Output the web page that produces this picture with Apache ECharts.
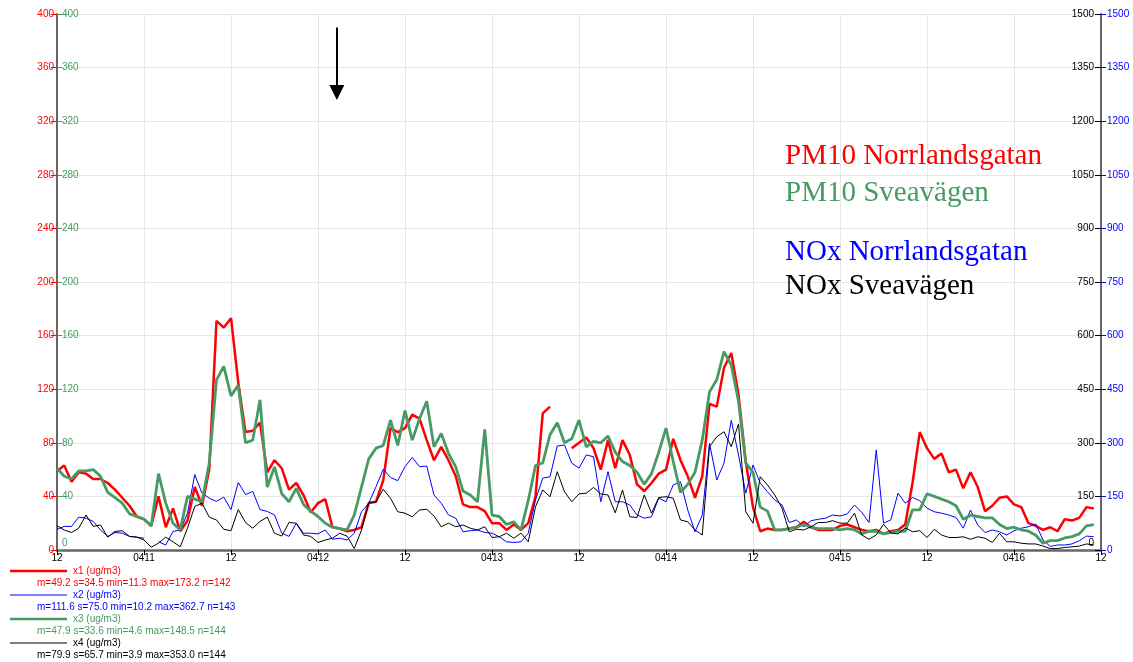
<!DOCTYPE html>
<html>
<head>
<meta charset="utf-8">
<script src="https://cdn.jsdelivr.net/npm/echarts@6/dist/echarts.min.js"></script>
<style>
html,body{margin:0;padding:0;background:#fff;}
#chart{width:1133px;height:662px;}
</style>
</head>
<body>
<div id="chart"></div>
<script>
// ---- DATA ----
const xTickLabels = ['12','0411','12','0412','12','0413','12','0414','12','0415','12','0416','12'];
const leftTicks = [0,40,80,120,160,200,240,280,320,360,400];
const rightTicks = [0,150,300,450,600,750,900,1050,1200,1350,1500];

// x1: PM10 Norrlandsgatan (left axis)
const x1 = [59,63,51,58,57,53,53,50,45,39,33,25,23,18,40,17,31,14,22,47,33,60,171,166,173,125,88,89,95,58,
  67,61,45,50,41,28,35,38,17,16,14,15,17,35,36,52,91,88,91,101,98,82,67,77,67,55,34,32,32,29,
  20,20,15,19,15,20,40,102,107,null,null,76,80,84,76,60,82,61,82,71,49,44,50,57,60,83,67,55,39,55,
  109,107,136,147,116,66,32,14,16,15,15,16,17,21,17,15,15,15,18,19,17,15,14,15,12,14,15,19,50,88,
  76,68,72,58,60,46,58,47,29,33,39,40,34,32,20,18,15,17,14,23,22,24,32,31];
// x2: NOx Norrlandsgatan (right axis)
const x2 = [58,66,66,92,89,80,56,38,49,47,38,36,33,null,23,14,52,56,103,211,159,145,136,148,113,189,155,164,113,108,
  98,47,38,75,47,47,45,56,30,33,28,47,107,131,177,226,203,194,233,259,233,235,154,131,98,89,51,54,56,49,
  47,37,23,21,23,47,140,201,205,291,294,243,229,266,261,135,219,135,135,126,98,89,93,145,135,182,191,112,51,98,
  299,196,243,363,266,159,238,187,163,140,126,77,84,65,82,86,89,98,95,101,126,105,77,280,75,84,159,131,147,138,
  117,107,103,98,91,61,112,70,49,56,51,42,54,61,65,73,28,10,14,14,17,26,39,37];
// x3: PM10 Sveavägen (left axis)
const x3 = [61,55,53,59,59,60,55,43,39,35,27,25,23,18,57,35,20,15,40,38,36,65,127,137,115,123,80,82,112,47,
  62,42,36,46,34,29,25,20,17,16,15,26,47,68,76,78,97,78,104,82,98,111,77,87,72,62,44,41,36,90,
  26,25,19,21,15,37,63,65,86,95,80,83,97,77,81,80,85,73,66,63,58,49,57,73,91,66,43,49,58,82,
  118,127,148,138,111,65,58,32,29,15,15,16,17,19,17,16,16,16,15,16,15,12,14,14,12,13,14,14,30,30,
  42,40,38,36,33,23,26,25,24,24,19,16,17,15,14,11,5,7,7,9,10,12,18,19];
// x4: NOx Sveavägen (right axis)
const x4 = [68,56,49,61,98,66,70,36,52,54,38,36,28,8,19,36,23,9,61,122,131,92,84,58,54,113,77,61,80,92,
  47,39,77,75,42,38,21,28,33,47,39,4,56,132,135,170,145,107,103,93,112,114,95,65,75,65,70,61,56,65,
  35,37,47,33,47,23,121,168,149,219,163,135,157,159,175,157,154,104,168,93,91,154,103,147,149,145,84,79,56,42,
  289,317,331,289,353,107,75,205,182,154,117,51,58,56,65,77,77,82,75,75,103,42,30,42,72,48,45,62,51,54,
  35,58,42,35,35,37,30,37,33,21,47,23,23,19,17,17,11,4,4,7,9,11,17,14];

const seriesNames = ['x1 (ug/m3)','x2 (ug/m3)','x3 (ug/m3)','x4 (ug/m3)'];
const statsText = [
  'm=49.2 s=34.5 min=11.3 max=173.2 n=142',
  'm=111.6 s=75.0 min=10.2 max=362.7 n=143',
  'm=47.9 s=33.6 min=4.6 max=148.5 n=144',
  'm=79.9 s=65.7 min=3.9 max=353.0 n=144'
];
const annotations = ['PM10 Norrlandsgatan','PM10 Sveavägen','NOx Norrlandsgatan','NOx Sveavägen'];
// arrow annotation in data space: hour, from value, to value (left axis)
const arrowHour = 38.6, arrowFrom = 390, arrowTo = 341.5;

// ---- STYLE ----
const RED = '#ff0000', BLUE = '#0000ff', GREEN = '#479a64', BLACK = '#000000';
const AXIS = '#666666', GRID = '#e6e6e6';
const SANS = '"Liberation Sans", Arial, sans-serif';
const SERIF = '"Liberation Serif", "Times New Roman", serif';

const toPairs = arr => arr.map((v, i) => [i, v]);

const chart = echarts.init(document.getElementById('chart'), null, {renderer: 'canvas'});

function zeroUp(v) { return v === 0 ? '{z|0}' : String(v); }
function plain(v) { return String(v); }

const legendColors = [RED, BLUE, GREEN, BLACK];
const legendWidths = [2.5, 1, 2.5, 1];
const legendGraphics = [];
for (let k = 0; k < 4; k++) {
  const y = 571 + k * 24;
  legendGraphics.push({type:'line', z:100, shape:{x1:10, y1:y, x2:67, y2:y}, style:{stroke:legendColors[k], lineWidth:legendWidths[k]}, silent:true});
  legendGraphics.push({type:'text', z:100, x:73, y:y, style:{text:seriesNames[k], fill:legendColors[k], font:'10px ' + SANS, verticalAlign:'middle'}});
  legendGraphics.push({type:'text', z:100, x:37, y:y + 12, style:{text:statsText[k], fill:legendColors[k], font:'10px ' + SANS, verticalAlign:'middle'}});
}
const annColors = [RED, GREEN, BLUE, BLACK];
const annY = [156, 193, 252, 286];
const annGraphics = annotations.map((t, k) => ({
  type:'text', z:100, x:785, y:annY[k],
  style:{text:t, fill:annColors[k], font:'29px ' + SERIF, verticalAlign:'middle', lineWidth:0, stroke:'none'}
}));

const option = {
  animation: false,
  backgroundColor: '#ffffff',
  grid: {left:57, right:32, top:14, bottom:112, outerBoundsMode:'none'},
  xAxis: {
    type:'value', min:0, max:144, interval:12,
    axisLine:{show:true, lineStyle:{color:AXIS, width:2.5}},
    axisTick:{show:true, length:5, lineStyle:{color:'#000'}},
    axisLabel:{color:'#000', fontSize:10, fontFamily:SANS, margin:3,
      formatter: v => xTickLabels[Math.round(v/12)]},
    splitLine:{show:true, lineStyle:{color:GRID, width:1}}
  },
  yAxis: [
    {type:'value', position:'left', min:leftTicks[0], max:leftTicks[leftTicks.length-1], interval:40,
      axisLine:{show:true, lineStyle:{color:AXIS, width:2}},
      axisTick:{show:true, length:6, lineStyle:{color:RED}},
      axisLabel:{color:RED, fontSize:10, fontFamily:SANS, margin:3, formatter:plain},
      splitLine:{show:true, lineStyle:{color:GRID, width:1}}},
    {type:'value', position:'left', min:leftTicks[0], max:leftTicks[leftTicks.length-1], interval:40,
      axisLine:{show:false},
      axisTick:{show:true, inside:true, length:5, lineStyle:{color:GREEN}},
      axisLabel:{inside:true, color:GREEN, fontSize:10, fontFamily:SANS, margin:5, formatter:zeroUp,
        rich:{z:{color:GREEN, fontSize:10, fontFamily:SANS, padding:[0,0,13,0]}}},
      splitLine:{show:false}},
    {type:'value', position:'right', min:rightTicks[0], max:rightTicks[rightTicks.length-1], interval:150,
      axisLine:{show:true, lineStyle:{color:AXIS, width:2}},
      axisTick:{show:true, inside:true, length:6, lineStyle:{color:BLACK}},
      axisLabel:{inside:true, color:BLACK, fontSize:10, fontFamily:SANS, margin:7, formatter:zeroUp,
        rich:{z:{color:BLACK, fontSize:10, fontFamily:SANS, padding:[0,0,13,0]}}},
      splitLine:{show:false}},
    {type:'value', position:'right', min:rightTicks[0], max:rightTicks[rightTicks.length-1], interval:150,
      axisLine:{show:false},
      axisTick:{show:true, length:5, lineStyle:{color:BLUE}},
      axisLabel:{color:BLUE, fontSize:10, fontFamily:SANS, margin:6, formatter:plain},
      splitLine:{show:false}}
  ],
  series: [
    {name:seriesNames[0], type:'line', yAxisIndex:0, data:toPairs(x1), showSymbol:false, symbol:'none',
      connectNulls:false, lineStyle:{color:RED, width:2.5}, z:2,
      markLine:{silent:true, symbol:['none','triangle'], symbolSize:[15,15], symbolRotate:180, label:{show:false},
        lineStyle:{color:'#000', width:2, type:'solid'},
        itemStyle:{color:'#000'},
        data:[[{coord:[arrowHour, arrowFrom]}, {coord:[arrowHour, arrowTo]}]]}},
    {name:seriesNames[1], type:'line', yAxisIndex:3, data:toPairs(x2), showSymbol:false, symbol:'none',
      connectNulls:false, lineStyle:{color:BLUE, width:1}, z:3},
    {name:seriesNames[2], type:'line', yAxisIndex:1, data:toPairs(x3), showSymbol:false, symbol:'none',
      connectNulls:false, lineStyle:{color:GREEN, width:2.8}, z:4},
    {name:seriesNames[3], type:'line', yAxisIndex:2, data:toPairs(x4), showSymbol:false, symbol:'none',
      connectNulls:false, lineStyle:{color:BLACK, width:1}, z:5}
  ],
  graphic: legendGraphics.concat(annGraphics)
};
chart.setOption(option);
</script>
</body>
</html>
